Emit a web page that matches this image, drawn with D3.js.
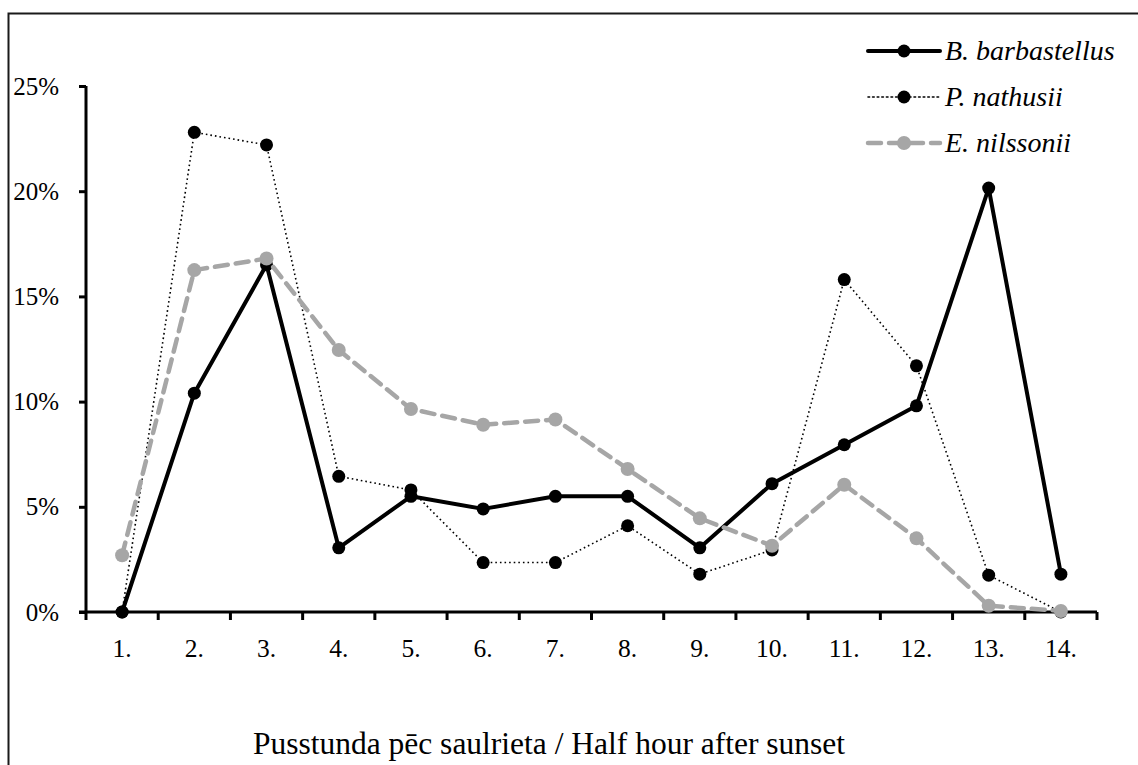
<!DOCTYPE html>
<html>
<head>
<meta charset="utf-8">
<script src="https://cdn.jsdelivr.net/npm/d3@7"></script>
<style>
  body { margin: 0; background: #fff; }
  svg { display: block; font-family: "Liberation Serif", "Times New Roman", serif; }
</style>
</head>
<body>
<svg width="1138" height="765"></svg>
<script>
// half-hour periods after sunset
var periods = ["1.", "2.", "3.", "4.", "5.", "6.", "7.", "8.", "9.", "10.", "11.", "12.", "13.", "14."];

// share of passes per half hour, %
var barbastellus = [0, 10.4, 16.5, 3.05, 5.5, 4.9, 5.5, 5.5, 3.05, 6.1, 7.95, 9.8, 20.15, 1.8];
var nathusii     = [0, 22.8, 22.2, 6.45, 5.8, 2.35, 2.35, 4.1, 1.8, 2.95, 15.8, 11.7, 1.75, 0];
var nilssonii    = [2.7, 16.25, 16.8, 12.45, 9.65, 8.9, 9.15, 6.8, 4.45, 3.15, 6.05, 3.5, 0.3, 0.05];

var yTicks = [0, 5, 10, 15, 20, 25];
var xTitle = "Pusstunda pēc saulrieta / Half hour after sunset";

var series = [
  {name: "B. barbastellus", values: barbastellus, color: "#000", width: 4, dash: null, cap: "butt", r: 6.5},
  {name: "P. nathusii", values: nathusii, color: "#000", width: 1.6, dash: "1.6,3", cap: "butt", r: 6.5},
  {name: "E. nilssonii", values: nilssonii, color: "#a6a6a6", width: 4.5, dash: "13,8", cap: "round", r: 7}
];

var svg = d3.select("svg"),
    margin = {top: 86, right: 41, bottom: 153, left: 86},
    width = svg.attr("width") - margin.left - margin.right,
    height = svg.attr("height") - margin.top - margin.bottom;

// outer frame, runs off the right and bottom edge
svg.append("rect")
    .attr("x", 8.5).attr("y", 13.5)
    .attr("width", 1200).attr("height", 800)
    .attr("fill", "none")
    .attr("stroke", "#1a1a1a")
    .attr("stroke-width", 2);

var g = svg.append("g").attr("transform", "translate(" + margin.left + "," + margin.top + ")");

var x = d3.scaleBand().domain(periods).range([0, width]),
    y = d3.scaleLinear().domain([0, 25]).range([height, 0]);

// y axis
var yAxis = g.append("g")
    .call(d3.axisLeft(y).tickValues(yTicks).tickSize(7).tickPadding(20).tickFormat(function(d) { return d + "%"; }));
yAxis.select(".domain").attr("stroke", "#000").attr("stroke-width", 3).attr("d", "M0," + height + "V0");
yAxis.selectAll(".tick line").attr("stroke", "#000").attr("stroke-width", 3);
yAxis.selectAll("text")
    .attr("fill", "#000")
    .style("font-size", "25px")
    .style("font-family", "Liberation Serif");

// x axis, ticks on the band edges
var xAxis = g.append("g")
    .attr("transform", "translate(0," + height + ")")
    .call(d3.axisBottom(x).tickSize(0).tickPadding(27));
xAxis.select(".domain").attr("stroke", "#000").attr("stroke-width", 3).attr("d", "M-7,0H" + width);
xAxis.selectAll("text")
    .attr("fill", "#000")
    .style("font-size", "25.5px")
    .style("font-family", "Liberation Serif");

xAxis.selectAll(".edge")
    .data(d3.range(periods.length + 1))
  .enter().append("line")
    .attr("class", "edge")
    .attr("x1", function(i) { return i * x.step(); })
    .attr("x2", function(i) { return i * x.step(); })
    .attr("y1", 0).attr("y2", 8)
    .attr("stroke", "#000")
    .attr("stroke-width", 3);

var line = d3.line()
    .x(function(d, i) { return x(periods[i]) + x.bandwidth() / 2; })
    .y(function(d) { return y(d); });

series.forEach(function(s) {
  g.append("path")
      .datum(s.values)
      .attr("fill", "none")
      .attr("stroke", s.color)
      .attr("stroke-width", s.width)
      .attr("stroke-dasharray", s.dash)
      .attr("stroke-linecap", s.cap)
      .attr("stroke-linejoin", "round")
      .attr("d", line);

  g.append("g").selectAll("circle")
      .data(s.values)
    .enter().append("circle")
      .attr("cx", function(d, i) { return x(periods[i]) + x.bandwidth() / 2; })
      .attr("cy", function(d) { return y(d); })
      .attr("r", s.r)
      .attr("fill", s.color);
});

// legend
var legend = svg.append("g").attr("transform", "translate(868,51)");
series.forEach(function(s, i) {
  var row = legend.append("g").attr("transform", "translate(0," + i * 46 + ")");
  row.append("line")
      .attr("x1", 0).attr("x2", 72)
      .attr("stroke", s.color)
      .attr("stroke-width", s.width)
      .attr("stroke-dasharray", s.dash)
      .attr("stroke-linecap", "round");
  row.append("circle").attr("cx", 36).attr("r", s.r).attr("fill", s.color);
  row.append("text")
      .attr("x", 77).attr("dy", "0.33em")
      .style("font-size", "28px")
      .style("font-style", "italic")
      .style("font-family", "Liberation Serif")
      .text(s.name);
});

// x axis title
svg.append("text")
    .attr("x", 549).attr("y", 754)
    .attr("text-anchor", "middle")
    .style("font-size", "31.5px")
    .style("font-family", "Liberation Serif")
    .text(xTitle);
</script>
</body>
</html>
